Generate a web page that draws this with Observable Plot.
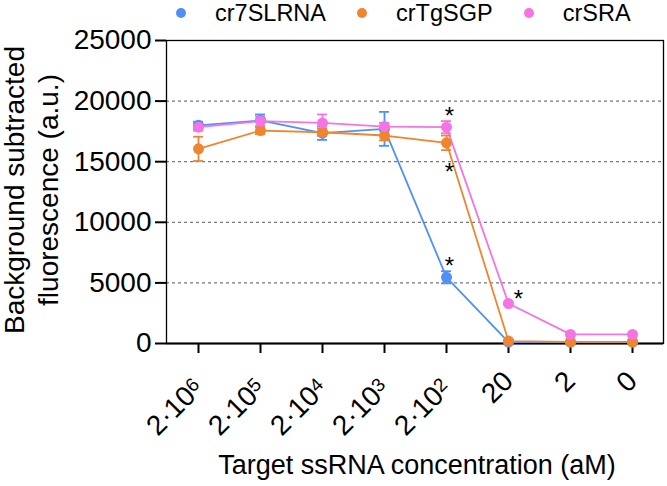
<!DOCTYPE html>
<html>
<head>
<meta charset="utf-8">
<script src="https://cdn.jsdelivr.net/npm/d3@7"></script>
<script src="https://cdn.jsdelivr.net/npm/@observablehq/plot@0.6"></script>
<style>
  body { margin: 0; background: #fff; font-family: "Liberation Sans", Arial, sans-serif; }
  #wrap { position: relative; width: 667px; height: 486px; }
  #legend { position: absolute; top: -2px; left: 0; width: 667px; height: 30px; display: flex; align-items: center; padding-left: 176px; box-sizing: border-box; font-size: 23.5px; color: #000; }
  #legend .item { display: flex; align-items: center; margin-right: 31px; }
  #legend .sw { width: 10px; height: 10px; border-radius: 50%; margin-right: 29px; }
</style>
</head>
<body>
<div id="wrap"><div id="legend"></div><div id="chart"></div></div>
<script>
const categories = ["2·10^6", "2·10^5", "2·10^4", "2·10^3", "2·10^2", "20", "2", "0"];
const seriesNames = ["cr7SLRNA", "crTgSGP", "crSRA"];
const seriesColors = ["#5090F5", "#EE8530", "#F474E4"];
const cr7SLRNA = [18000, 18400, 17350, 17710, 5460, 120, 110, 110];
const cr7SLRNA_err = [300, 500, 550, 1400, 500, 0, 0, 0];
const crTgSGP = [16060, 17570, 17430, 17160, 16560, 200, 140, 140];
const crTgSGP_err = [1000, 300, 300, 400, 600, 0, 0, 0];
const crSRA = [17850, 18340, 18200, 17900, 17850, 3300, 750, 750];
const crSRA_err = [300, 400, 700, 300, 500, 100, 0, 0];
const yTicks = [0, 5000, 10000, 15000, 20000, 25000];
const gridTicks = [5000, 10000, 15000, 20000];
const starX = ["2·10^2", "2·10^2", "2·10^2", "20"];
const starY = [19060, 14440, 6680, 3960];
const yLabel = "Background subtracted\nfluorescence (a.u.)";
const xLabel = "Target ssRNA concentration (aM)";

const values = [cr7SLRNA, crTgSGP, crSRA];
const errs = [cr7SLRNA_err, crTgSGP_err, crSRA_err];
const data = [];
seriesNames.forEach((s, si) => categories.forEach((c, i) => {
  data.push({series: s, x: c, y: values[si][i], lo: values[si][i] - errs[si][i], hi: values[si][i] + errs[si][i], err: errs[si][i]});
}));
const errData = data.filter(d => d.err > 0);
const stars = starX.map((x, i) => ({x, y: starY[i]}));
const starsA = stars.filter(d => d.x !== "20");
const starsB = stars.filter(d => d.x === "20");

const font = "Liberation Sans, Arial, sans-serif";
const chart = Plot.plot({
  width: 667,
  height: 486,
  marginLeft: 166,
  marginRight: 4,
  marginTop: 40,
  marginBottom: 143,
  style: {fontFamily: font, fontSize: "27px", color: "#000", background: "#fff"},
  x: {type: "point", domain: categories, padding: 0.5, label: null},
  y: {domain: [0, 25000], label: null},
  color: {domain: seriesNames, range: seriesColors},
  marks: [
    Plot.ruleY(gridTicks, {stroke: "#777", strokeDasharray: "3,3", strokeWidth: 1.2}),
    Plot.frame({stroke: "#000", strokeWidth: 1.3}),
    Plot.axisY({ticks: yTicks, tickSize: 11, tickPadding: 4, tickFormat: d => String(d), fontSize: 28, strokeWidth: 2, label: null}),
    Plot.axisX({tickSize: 10, tickRotate: -45, tickPadding: 23, fontSize: 28, strokeWidth: 2, label: null}),
    Plot.ruleX([0], {frameAnchor: "left", stroke: "#000", strokeWidth: 2}),
    Plot.ruleY([0], {stroke: "#000", strokeWidth: 2}),
    Plot.line(data, {x: "x", y: "y", z: "series", stroke: "series", strokeWidth: 1.8}),
    Plot.ruleX(errData, {x: "x", y1: "lo", y2: "hi", stroke: "series", strokeWidth: 1.8}),
    Plot.ruleY(errData, {x1: "x", x2: "x", y: "hi", stroke: "series", strokeWidth: 1.8, insetLeft: -5, insetRight: -5}),
    Plot.ruleY(errData, {x1: "x", x2: "x", y: "lo", stroke: "series", strokeWidth: 1.8, insetLeft: -5, insetRight: -5}),
    Plot.dot(data, {x: "x", y: "y", fill: "series", r: 5.5}),
    Plot.text(starsA, {x: "x", y: "y", text: () => "*", dx: 3, dy: 4, fontSize: 24, fill: "#000"}),
    Plot.text(starsB, {x: "x", y: "y", text: () => "*", dx: 10, dy: 4, fontSize: 24, fill: "#000"}),
    Plot.text([yLabel], {frameAnchor: "left", text: d => d, rotate: -90, textAnchor: "middle", lineAnchor: "middle", dx: -136, dy: -2, fontSize: 28, lineHeight: 1.2, fill: "#000"}),
    Plot.text([xLabel], {frameAnchor: "bottom", text: d => d, textAnchor: "middle", lineAnchor: "middle", dx: 2, dy: 122, fontSize: 27, fill: "#000"})
  ]
});
document.getElementById("chart").appendChild(chart);

// render exponents as superscripts
chart.querySelectorAll('g[aria-label="x-axis tick label"] text').forEach(t => {
  const s = t.textContent;
  if (s.includes("^")) {
    const [base, exp] = s.split("^");
    t.textContent = "";
    const b = document.createElementNS("http://www.w3.org/2000/svg", "tspan");
    b.textContent = base;
    const e = document.createElementNS("http://www.w3.org/2000/svg", "tspan");
    e.textContent = exp;
    e.setAttribute("font-size", "0.68em");
    e.setAttribute("baseline-shift", "32%");
    t.appendChild(b); t.appendChild(e);
    const tr = t.getAttribute("transform");
    if (tr) t.setAttribute("transform", tr + " translate(-5,5)");
  }
});

const legend = document.getElementById("legend");
seriesNames.forEach((s, i) => {
  const item = document.createElement("div");
  item.className = "item";
  const sw = document.createElement("span");
  sw.className = "sw";
  sw.style.background = seriesColors[i];
  const t = document.createElement("span");
  t.textContent = s;
  item.appendChild(sw); item.appendChild(t);
  legend.appendChild(item);
});
</script>
</body>
</html>
